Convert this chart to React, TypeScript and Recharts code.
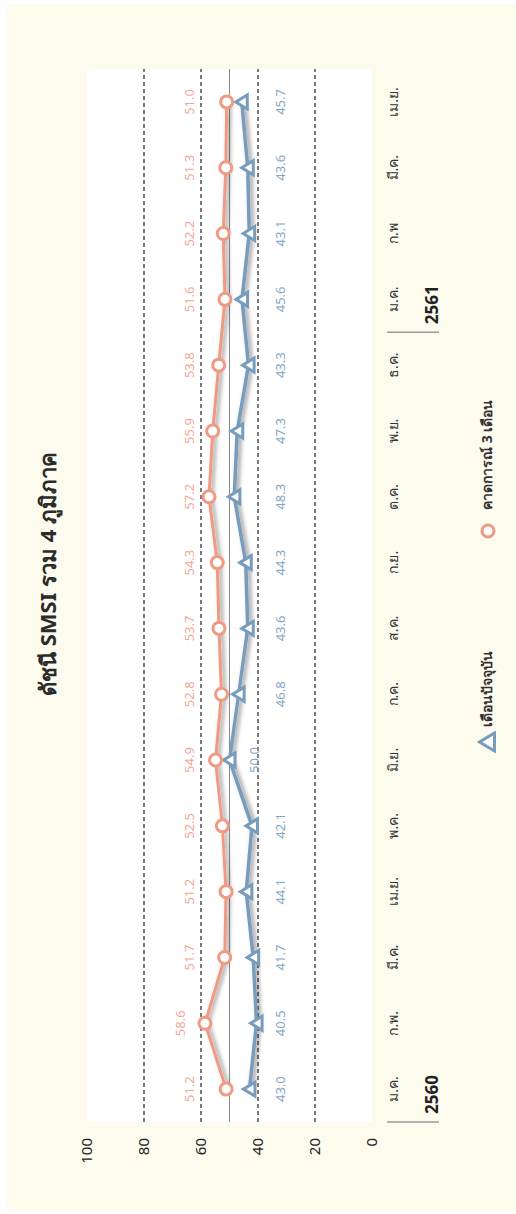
import { LineChart, Line, XAxis, YAxis, CartesianGrid, ReferenceLine, LabelList } from 'recharts';

const months = ['ม.ค.', 'ก.พ.', 'มี.ค.', 'เม.ย.', 'พ.ค.', 'มิ.ย.', 'ก.ค.', 'ส.ค.', 'ก.ย.', 'ต.ค.', 'พ.ย.', 'ธ.ค.', 'ม.ค.', 'ก.พ', 'มี.ค.', 'เม.ย.'];
const yearStarts = [0, 12];
const yearLabels = ['2560', '2561'];
const current = [43.0, 40.5, 41.7, 44.1, 42.1, 50.0, 46.8, 43.6, 44.3, 48.3, 47.3, 43.3, 45.6, 43.1, 43.6, 45.7];
const forecast = [51.2, 58.6, 51.7, 51.2, 52.5, 54.9, 52.8, 53.7, 54.3, 57.2, 55.9, 53.8, 51.6, 52.2, 51.3, 51.0];
const yTicks = [0, 20, 40, 60, 80, 100];
const gridValues = [20, 40, 60, 80];

const data = months.map((m, i) => ({ m, current: current[i], forecast: forecast[i] }));

// chart is drawn landscape then turned a quarter turn to the left
const W = 1214;
const H = 516;
const PLOT_LEFT = 92;
const PLOT_TOP = 87;
const PLOT_W = 1053;
const PLOT_H = 285;
const PLOT_BOTTOM = PLOT_TOP + PLOT_H;
const BAND = PLOT_W / months.length;

const ORANGE = '#f09a84';
const BLUE = '#779cbc';
const ORANGE_TXT = '#f2a893';
const BLUE_TXT = '#84a6c4';
const FONT = "'Noto Sans', 'DejaVu Sans', sans-serif";

const yPx = (v: number) => PLOT_TOP + (1 - v / 100) * PLOT_H;

function MonthTick(props: any) {
  const { x, payload } = props;
  const idx = payload?.index ?? props.index;
  const yi = yearStarts.indexOf(idx);
  const sep = x - BAND / 2;
  return (
    <g>
      <text x={x} y={PLOT_BOTTOM + 26} textAnchor="middle" fontSize={14} fill="#333" fontFamily={FONT}>
        {payload.value}
      </text>
      {yi >= 0 && (
        <g>
          <line x1={sep} x2={sep} y1={387} y2={439} stroke="#9a9a9a" strokeWidth={1.5} />
          <text x={sep + 8} y={438} fontSize={17} fontWeight="bold" fill="#222" fontFamily={FONT}>
            {yearLabels[yi]}
          </text>
        </g>
      )}
    </g>
  );
}

function CircleDot(props: any) {
  const { cx, cy, index } = props;
  return <circle key={'c' + index} cx={cx} cy={cy} r={6} fill="#fff" stroke={ORANGE} strokeWidth={3} />;
}

function TriangleDot(props: any) {
  const { cx, cy, index } = props;
  const pts = `${cx},${cy - 6} ${cx - 7},${cy + 5.5} ${cx + 7},${cy + 5.5}`;
  return <polygon key={'t' + index} points={pts} fill="#fff" stroke={BLUE} strokeWidth={3} strokeLinejoin="miter" />;
}

function ForecastLabel(props: any) {
  const x = props.x ?? props.viewBox?.x;
  const y = props.y ?? props.viewBox?.y;
  const v = Number(props.value);
  const cy = v > 58 ? y - 24 : yPx(64);
  return (
    <text x={x} y={cy + 4.5} textAnchor="middle" fontSize={13} fill={ORANGE_TXT} fontFamily={FONT}>
      {v.toFixed(1)}
    </text>
  );
}

function CurrentLabel(props: any) {
  const x = props.x ?? props.viewBox?.x;
  const y = props.y ?? props.viewBox?.y;
  const v = Number(props.value);
  const cy = v >= 50 ? y + 25 : yPx(32);
  return (
    <text x={x} y={cy + 4.5} textAnchor="middle" fontSize={13} fill={BLUE_TXT} fontFamily={FONT}>
      {v.toFixed(1)}
    </text>
  );
}

export default function App() {
  return (
    <div style={{ position: 'absolute', left: 0, top: 0, width: 516, height: 1214, overflow: 'hidden', background: '#fff' }}>
      <style>{'.shd .recharts-line-curve, .shd .recharts-line-dots { filter: url(#lineShadow); }'}</style>
      <div
        style={{
          position: 'absolute',
          left: 0,
          top: 0,
          width: W,
          height: H,
          transformOrigin: '0 0',
          transform: `translate(0px, ${W}px) rotate(-90deg)`,
          fontFamily: FONT,
        }}
      >
        <div style={{ position: 'absolute', left: 2, top: 7, width: 1208, height: 509, background: '#fdfbee' }} />
        <div
          style={{
            position: 'absolute',
            left: 440,
            width: 400,
            top: 31,
            textAlign: 'center',
            fontSize: 22,
            fontWeight: 'bold',
            color: '#2b2b2b',
            lineHeight: '32px',
          }}
        >
          ดัชนี SMSI รวม 4 ภูมิภาค
        </div>
        <div style={{ position: 'absolute', left: 0, top: 0 }}>
          <LineChart
            width={W}
            height={H}
            data={data}
            margin={{ top: PLOT_TOP, right: W - PLOT_LEFT - PLOT_W, left: PLOT_LEFT - 60, bottom: H - PLOT_BOTTOM - 30 }}
          >
            <defs>
              <filter id="lineShadow" filterUnits="userSpaceOnUse" x={0} y={0} width={W} height={H}>
                <feDropShadow dx={0} dy={2.5} stdDeviation={2} floodColor="#000" floodOpacity={0.45} />
              </filter>
            </defs>
            <CartesianGrid
              fill="#ffffff"
              vertical={false}
              horizontalValues={gridValues}
              stroke="#222"
              strokeWidth={1.2}
              strokeDasharray="4 3"
            />
            <XAxis
              dataKey="m"
              height={30}
              interval={0}
              axisLine={false}
              tickLine={false}
              tickSize={0}
              tickMargin={0}
              padding={{ left: BAND / 2, right: BAND / 2 }}
              tick={<MonthTick />}
            />
            <YAxis
              width={60}
              domain={[0, 100]}
              ticks={yTicks}
              axisLine={false}
              tickLine={false}
              tickSize={6}
              tickMargin={10}
              tick={{ fill: '#222', fontSize: 15, fontFamily: FONT }}
            />
            <ReferenceLine y={50} stroke="#8a8a8a" strokeWidth={1} />
            <Line
              className="shd"
              dataKey="current"
              stroke={BLUE}
              strokeWidth={3.5}
              dot={TriangleDot}
              activeDot={false}
              isAnimationActive={false}
            >
              <LabelList dataKey="current" content={CurrentLabel} />
            </Line>
            <Line
              className="shd"
              dataKey="forecast"
              stroke={ORANGE}
              strokeWidth={3}
              dot={CircleDot}
              activeDot={false}
              isAnimationActive={false}
            >
              <LabelList dataKey="forecast" content={ForecastLabel} />
            </Line>
          </LineChart>
        </div>
        <div style={{ position: 'absolute', left: 461, top: 477, width: 22, height: 20 }}>
          <svg width={22} height={20}>
            <polygon points="11,2.5 2,17.5 20,17.5" fill="#fff" stroke={BLUE} strokeWidth={3} />
          </svg>
        </div>
        <div style={{ position: 'absolute', left: 487, top: 476, fontSize: 14, fontWeight: 'bold', color: '#333', lineHeight: '22px', whiteSpace: 'nowrap' }}>
          เดือนปัจจุบัน
        </div>
        <div style={{ position: 'absolute', left: 675, top: 479, width: 16, height: 16 }}>
          <svg width={16} height={16}>
            <circle cx={8} cy={8} r={6} fill="#fff" stroke={ORANGE} strokeWidth={3} />
          </svg>
        </div>
        <div style={{ position: 'absolute', left: 704, top: 476, fontSize: 14, fontWeight: 'bold', color: '#333', lineHeight: '22px', whiteSpace: 'nowrap' }}>
          คาดการณ์ 3 เดือน
        </div>
      </div>
    </div>
  );
}
